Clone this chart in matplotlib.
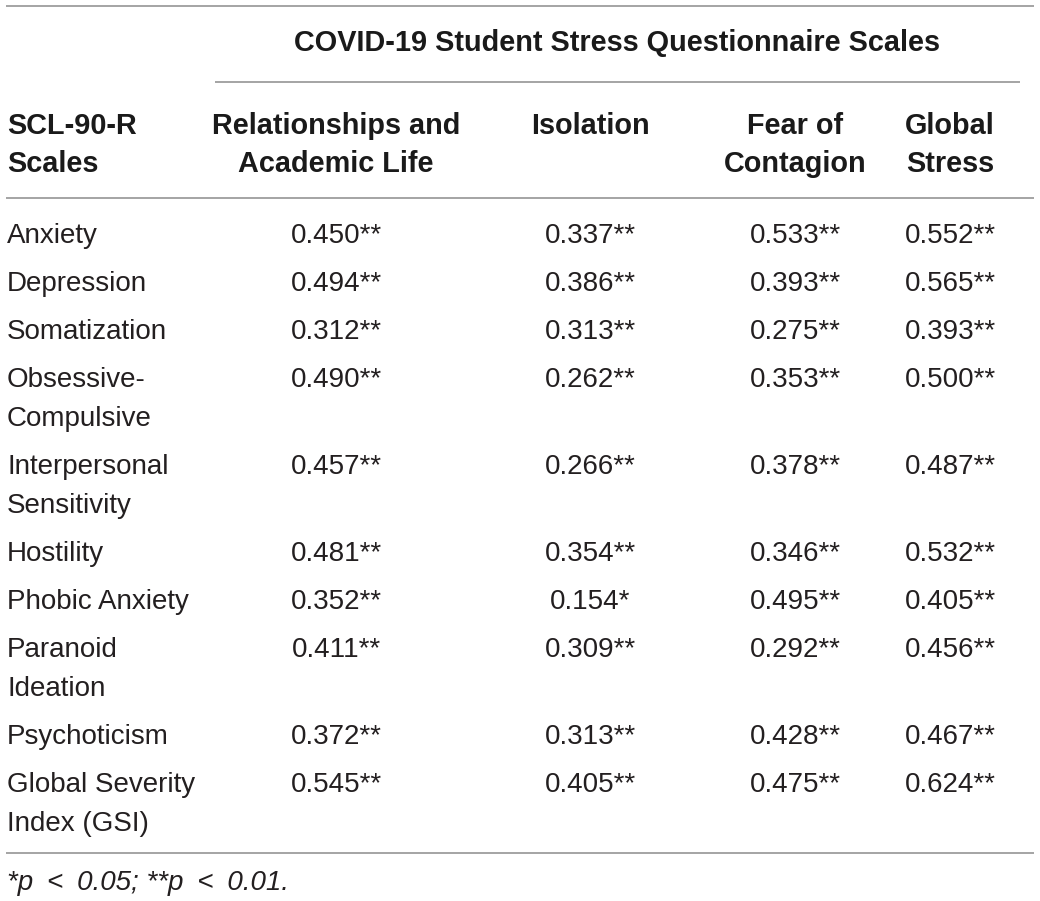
import matplotlib

matplotlib.use("Agg")

import matplotlib.pyplot as plt

# table content
SUPER_HEADER = "COVID-19 Student Stress Questionnaire Scales"
ROW_HEADER = ["SCL-90-R", "Scales"]
COLUMN_HEADERS = [
    ["Relationships and", "Academic Life"],
    ["Isolation"],
    ["Fear of", "Contagion"],
    ["Global", "Stress"],
]
ROW_LABELS = [
    ["Anxiety"],
    ["Depression"],
    ["Somatization"],
    ["Obsessive-", "Compulsive"],
    ["Interpersonal", "Sensitivity"],
    ["Hostility"],
    ["Phobic Anxiety"],
    ["Paranoid", "Ideation"],
    ["Psychoticism"],
    ["Global Severity", "Index (GSI)"],
]
RELATIONSHIPS = ["0.450**", "0.494**", "0.312**", "0.490**", "0.457**",
                 "0.481**", "0.352**", "0.411**", "0.372**", "0.545**"]
ISOLATION = ["0.337**", "0.386**", "0.313**", "0.262**", "0.266**",
             "0.354**", "0.154*", "0.309**", "0.313**", "0.405**"]
FEAR = ["0.533**", "0.393**", "0.275**", "0.353**", "0.378**",
        "0.346**", "0.495**", "0.292**", "0.428**", "0.475**"]
GLOBAL = ["0.552**", "0.565**", "0.393**", "0.500**", "0.487**",
          "0.532**", "0.405**", "0.456**", "0.467**", "0.624**"]
FOOTNOTE = "*p\u2002<\u20020.05; **p\u2002<\u20020.01."

# layout in pixels (figure is 1040 x 901)
W, H = 1040, 901
COL_X = [336, 590, 795, 950]
LABEL_X = 7
ROW_STEP = 48
LINE_STEP = 39
FIRST_BASELINE = 243
TEXT_COLOR = "#231f20"
HEAD_COLOR = "#1a1a1a"
RULE_COLOR = "#8c8c8c"
FONT = ["Liberation Sans", "DejaVu Sans"]
BODY_SIZE = 20
HEAD_SIZE = 20.8

plt.rcParams["font.family"] = FONT

fig = plt.figure(figsize=(W / 100, H / 100), dpi=100)
ax = fig.add_axes([0, 0, 1, 1])
ax.set_xlim(0, W)
ax.set_ylim(H, 0)
ax.axis("off")


def rule(y, x0=6, x1=1034):
    ax.plot([x0, x1], [y, y], color=RULE_COLOR, linewidth=1.1,
            solid_capstyle="butt")


def put(x, y, s, ha="center", bold=False, italic=False):
    ax.text(x, y, s, ha=ha, va="baseline",
            color=HEAD_COLOR if bold else TEXT_COLOR,
            fontsize=HEAD_SIZE if bold else BODY_SIZE,
            fontweight="bold" if bold else "normal",
            fontstyle="italic" if italic else "normal")


# rules
rule(5.5)
rule(82, 215, 1020)
rule(197.5)
rule(852.5)

# headers
put(617, 51, SUPER_HEADER, bold=True)
for i, line in enumerate(ROW_HEADER):
    put(LABEL_X, 133.5 + i * LINE_STEP, line, ha="left", bold=True)
for x, lines in zip(COL_X, COLUMN_HEADERS):
    for i, line in enumerate(lines):
        put(x, 133.5 + i * LINE_STEP, line, bold=True)

# body
columns = [RELATIONSHIPS, ISOLATION, FEAR, GLOBAL]
y = FIRST_BASELINE
for r, lines in enumerate(ROW_LABELS):
    for i, line in enumerate(lines):
        put(LABEL_X, y + i * LINE_STEP, line, ha="left")
    for x, col in zip(COL_X, columns):
        put(x, y, col[r])
    y += ROW_STEP + LINE_STEP * (len(lines) - 1)

put(LABEL_X, 890, FOOTNOTE, ha="left", italic=True)

fig.savefig("out.png", dpi=100, facecolor="white")
